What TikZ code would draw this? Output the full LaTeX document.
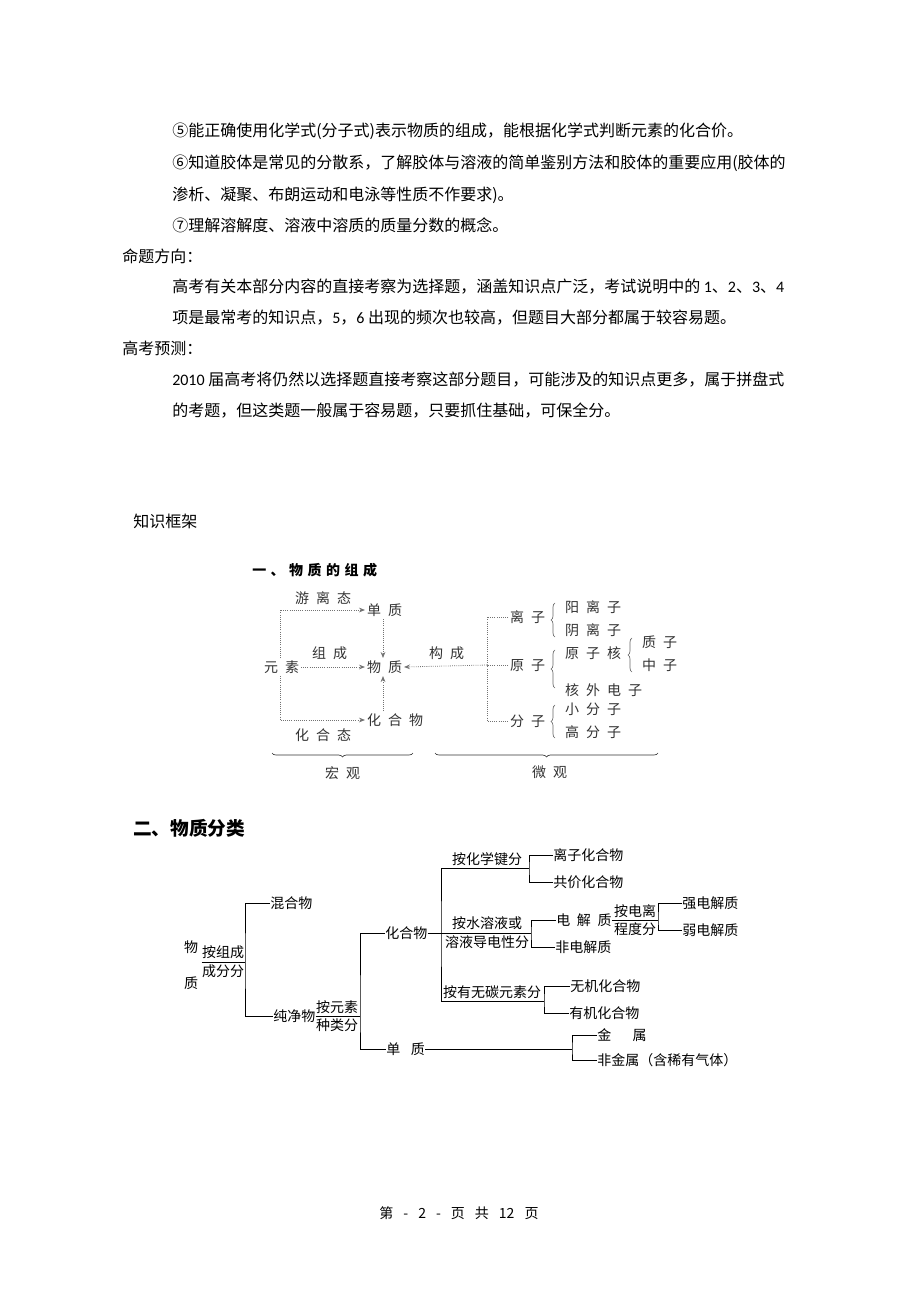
\documentclass[tikz,border=0pt]{standalone}
\usepackage{fontspec}
\setmainfont{Noto Sans CJK SC}
\newfontfamily\latinfont{Carlito}
\newfontfamily\figfont[LetterSpace=50]{Noto Sans CJK SC}
\newfontfamily\titlefont[LetterSpace=32]{Noto Sans CJK SC}
\newcommand\dg[1]{{\latinfont #1}}
\usetikzlibrary{arrows.meta,decorations.pathreplacing}

\tikzset{
  body/.style={anchor=west,inner sep=0pt,text height=10.5pt,text depth=1.5pt,
    font=\fontsize{12pt}{14pt}\selectfont},
  fig/.style={anchor=west,inner sep=0pt,outer sep=1.5pt,text=black!80,
    text height=9pt,text depth=1.5pt,font=\figfont\fontsize{10.5pt}{12pt}\selectfont},
  figline/.style={black!55,densely dotted,line width=0.6pt},
  figarrow/.style={figline,-{Stealth[length=4.5pt,width=3.5pt]}},
  figbrace/.style={decorate,decoration={brace,amplitude=3pt},black!60,line width=0.5pt},
  cls/.style={anchor=west,inner sep=0pt,text height=9pt,text depth=1.5pt,
    font=\fontsize{10.5pt}{12pt}\selectfont},
  clsline/.style={black,line width=0.6pt}
}

\begin{document}
\begin{tikzpicture}[x=0.75pt,y=-0.75pt]
\fill[white] (0,0) rectangle (920,1302);
\useasboundingbox (0,0) rectangle (920,1302);

% text of the page
\node[body] (l1) at (172,131) {⑤能正确使用化学式(分子式)表示物质的组成，能根据化学式判断元素的化合价。};
\node[body] (l2) at (172,163) {⑥知道胶体是常见的分散系，了解胶体与溶液的简单鉴别方法和胶体的重要应用(胶体的};
\node[body] (l3) at (172,194) {渗析、凝聚、布朗运动和电泳等性质不作要求)。};
\node[body] (l4) at (172,225) {⑦理解溶解度、溶液中溶质的质量分数的概念。};
\node[body] (mtfx) at (122,256) {命题方向：};
\node[body] (l5) at (172,286) {高考有关本部分内容的直接考察为选择题，涵盖知识点广泛，考试说明中的 \dg{1}、\dg{2}、\dg{3}、\dg{4}};
\node[body] (l6) at (172,317) {项是最常考的知识点，\dg{5}，\dg{6} 出现的频次也较高，但题目大部分都属于较容易题。};
\node[body] (gkyc) at (122,348) {高考预测：};
\node[body] (l7) at (172,379) {\dg{2010} 届高考将仍然以选择题直接考察这部分题目，可能涉及的知识点更多，属于拼盘式};
\node[body] (l8) at (172,410) {的考题，但这类题一般属于容易题，只要抓住基础，可保全分。};
\node[body] (zskj) at (133,521) {知识框架};

% 一、物质的组成
\node[anchor=west,inner sep=0pt,font=\titlefont\bfseries\fontsize{10.5pt}{12pt}\selectfont] (zctitle) at (252,570) {一、物质的组成};
\node[fig] (youli) at (293,598) {游离态};
\node[fig] (danzhi) at (365,610) {单质};
\node[fig] (yuansu) at (262,667) {元素};
\node[fig] (zucheng) at (310,653) {组成};
\node[fig] (wuzhi) at (365,667) {物质};
\node[fig] (huahewu) at (365,720) {化合物};
\node[fig] (huahetai) at (293,735) {化合态};
\node[fig] (goucheng) at (427,653) {构成};
\node[fig] (lizi) at (508,617) {离子};
\node[fig] (yuanzi) at (508,665) {原子};
\node[fig] (fenzi) at (508,721) {分子};
\node[fig] (yang) at (563,607) {阳离子};
\node[fig] (yin) at (563,630) {阴离子};
\node[fig] (hezi) at (563,653) {原子核};
\node[fig] (hewai) at (563,690) {核外电子};
\node[fig] (zhizi) at (640,642) {质子};
\node[fig] (zhongzi) at (640,665) {中子};
\node[fig] (xiao) at (563,709) {小分子};
\node[fig] (gao) at (563,732) {高分子};
\node[fig] (hongguan) at (323,773) {宏观};
\node[fig] (weiguan) at (530,772) {微观};

\coordinate (yx) at (280,667);
\coordinate (wx) at (383,667);
\coordinate (gj) at (487,665);
\draw[figarrow] (yx |- yuansu.north) |- (danzhi.west);
\draw[figarrow] (yx |- yuansu.south) |- (huahewu.west);
\draw[figarrow] (yuansu.east) -- (wuzhi.west);
\draw[figarrow] (wx |- danzhi.south) -- (wx |- wuzhi.north);
\draw[figarrow] (wx |- huahewu.north) -- (wx |- wuzhi.south);
\draw[figarrow] (gj) -- (wuzhi.east);
\draw[figline] (lizi.west) -| (gj) |- (fenzi.west);
\draw[figline] (yuanzi.west) -- (gj);

\draw[figbrace] (555,637) -- (555,603);
\draw[figbrace] (555,688) -- (555,650);
\draw[figbrace] (632,672) -- (632,638);
\draw[figbrace] (555,738) -- (555,705);
\draw[figbrace,black!80] (413,753) -- (272,753);
\draw[figbrace,black!80] (658,753) -- (435,753);

% 二、物质分类
\node[anchor=west,inner sep=0pt,font=\bfseries\fontsize{14pt}{16pt}\selectfont] (sec2) at (133,828) {二、物质分类};
\node[cls,anchor=center] (wu) at (191,947) {物};
\node[cls,anchor=center] (zhi) at (191,983) {质};
\node[cls,anchor=south] (zcA) at (223,960) {按组成};
\node[cls,anchor=north] (zcB) at (223,964) {成分分};
\coordinate (j1) at (245,962);
\draw[clsline] (zcA.west |- j1) -- (j1);
\node[cls] (hunhe) at (270,903) {混合物};
\node[cls] (chunjing) at (273,1016) {纯净物};
\draw[clsline] (hunhe.west) -| (j1) |- (chunjing.west);

\node[cls,anchor=south] (ysA) at (337,1015) {按元素};
\node[cls,anchor=north] (ysB) at (337,1018) {种类分};
\coordinate (j2) at (360,1016);
\draw[clsline] (chunjing.east) -- (j2);
\node[cls] (hhw) at (385,933) {化合物};
\node[cls] (dz) at (386,1049) {单\hspace{8pt}质};
\draw[clsline] (hhw.west) -| (j2) |- (dz.west);

\coordinate (j3) at (441,933);
\draw[clsline] (hhw.east) -- (j3);
\node[cls,anchor=south] (jA) at (487,867) {按化学键分};
\coordinate (u1) at (529,868);
\node[cls,anchor=south] (sA) at (487,931) {按水溶液或};
\node[cls,anchor=north] (sB) at (487,935) {溶液导电性分};
\coordinate (u2) at (531,933);
\node[cls,anchor=south] (tA) at (492,1000) {按有无碳元素分};
\coordinate (u3) at (544,1001);
\draw[clsline] (u1) -| (j3) |- (u3);
\draw[clsline] (j3) -- (u2);

\node[cls] (lzh) at (553,855) {离子化合物};
\node[cls] (gjh) at (553,882) {共价化合物};
\draw[clsline] (lzh.west) -| (u1) |- (gjh.west);

\node[cls] (djz) at (556,920) {电\hspace{5pt}解\hspace{5pt}质};
\node[cls] (fdj) at (555,947) {非电解质};
\draw[clsline] (djz.west) -| (u2) |- (fdj.west);
\node[cls,anchor=south] (dlA) at (635,919) {按电离};
\node[cls,anchor=north] (dlB) at (635,922) {程度分};
\coordinate (u4) at (658,920);
\draw[clsline] (djz.east) -- (u4);
\node[cls] (qdj) at (682,903) {强电解质};
\node[cls] (rdj) at (682,930) {弱电解质};
\draw[clsline] (qdj.west) -| (u4) |- (rdj.west);

\node[cls] (wjh) at (570,986) {无机化合物};
\node[cls] (yjh) at (569,1013) {有机化合物};
\draw[clsline] (wjh.west) -| (u3) |- (yjh.west);

\coordinate (u5) at (572,1049);
\draw[clsline] (dz.east) -- (u5);
\node[cls] (js) at (597,1035) {金\hspace{16pt}属};
\node[cls] (fjs) at (597,1060) {非金属（含稀有气体）};
\draw[clsline] (js.west) -| (u5) |- (fjs.west);

% footer
\node[font=\fontsize{10.5pt}{12pt}\selectfont,inner sep=0pt] (footer) at (459,1213) {第\hspace{7.5pt}-\hspace{7.5pt}2\hspace{7.5pt}-\hspace{7.5pt}页\hspace{7.5pt}共\hspace{7.5pt}12\hspace{7.5pt}页};
\end{tikzpicture}
\end{document}
